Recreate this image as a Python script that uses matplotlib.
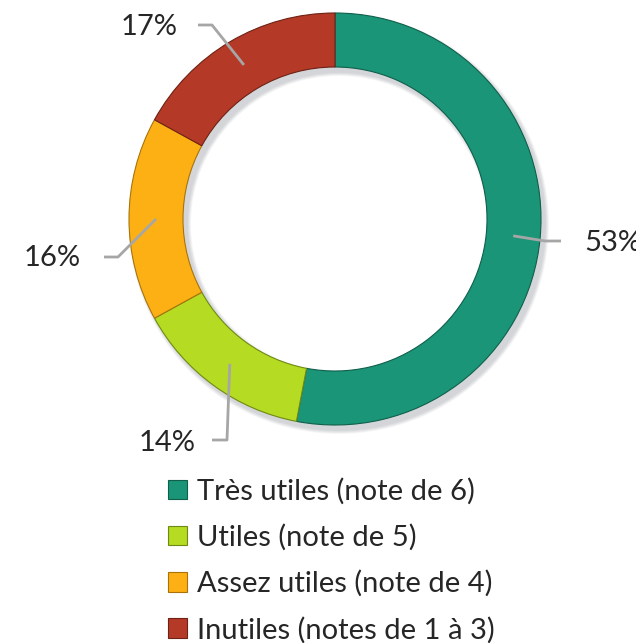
import matplotlib
matplotlib.use("Agg")
import matplotlib.pyplot as plt
from matplotlib.patches import Patch, Wedge
import numpy as np

categories = ["Très utiles (note de 6)", "Utiles (note de 5)",
              "Assez utiles (note de 4)", "Inutiles (notes de 1 à 3)"]
values = [53, 14, 16, 17]
pct_labels = ["53%", "14%", "16%", "17%"]
colors = ["#1a9577", "#b5db22", "#fdb013", "#b43a27"]
edge_colors = ["#0f5f4b", "#6f8a12", "#a8740a", "#6e2114"]

W, H = 636, 643
FONT = ["Lato", "DejaVu Sans"]
TXT = "#262626"

fig = plt.figure(figsize=(W / 100, H / 100), dpi=100)
ax = fig.add_axes([0, 0, 1, 1])
ax.set_xlim(0, W)
ax.set_ylim(0, H)
ax.set_aspect("equal")
ax.axis("off")

def py(y):
    return H - y

cx, cy = 335, py(219)
R_out, R_in = 206, 152
ring_w = R_out - R_in

# soft shadow
for i in range(8):
    ax.add_patch(Wedge((cx + 4, cy - 5), R_out + 4 - i * 0.5, 0, 360,
                       width=ring_w + 8 - i * 1.0, facecolor="#8a8f99",
                       edgecolor="none", alpha=0.05, zorder=1))

wedges, _ = ax.pie(values, colors=colors, startangle=90, counterclock=False,
                   radius=R_out, center=(cx, cy), frame=True,
                   wedgeprops=dict(width=ring_w, linewidth=0.8))
for w, ec in zip(wedges, edge_colors):
    w.set_edgecolor(ec)
    w.set_zorder(3)
ax.set_xlim(0, W)
ax.set_ylim(0, H)
ax.axis("off")

# leader lines + labels (layout positions in pixel coords from top-left)
elbows = [(545, 241), (227, 440), (118, 257), (212, 25)]
ends = [(561, 241), (212, 440), (104, 257), (198, 25)]
text_pos = [(584, 243, "left"), (196, 443, "right"), (81, 258, "right"), (178, 27, "right")]
r_mid = (R_out + R_in) / 2
for w, el, en, (tx, ty, ha), lab in zip(wedges, elbows, ends, text_pos, pct_labels):
    ang = np.deg2rad((w.theta1 + w.theta2) / 2)
    sx, sy = cx + r_mid * np.cos(ang), cy + r_mid * np.sin(ang)
    ax.plot([sx, el[0], en[0]], [sy, py(el[1]), py(en[1])], color="#a6a6a6",
            lw=2, zorder=5, solid_capstyle="butt")
    ax.text(tx, py(ty), lab, ha=ha, va="center", fontsize=21, color=TXT,
            family=FONT, zorder=6)

handles = [Patch(facecolor=c, edgecolor=ec, linewidth=0.8) for c, ec in zip(colors, edge_colors)]
fig.legend(handles, categories, loc="upper left",
           bbox_to_anchor=(168 / W, 1 - 478 / H), frameon=False,
           prop=dict(family=FONT, size=21), labelcolor=TXT,
           handlelength=0.65, handleheight=0.65, handletextpad=0.35,
           labelspacing=0.66, borderaxespad=0, borderpad=0)

fig.savefig("out.png", dpi=100)
